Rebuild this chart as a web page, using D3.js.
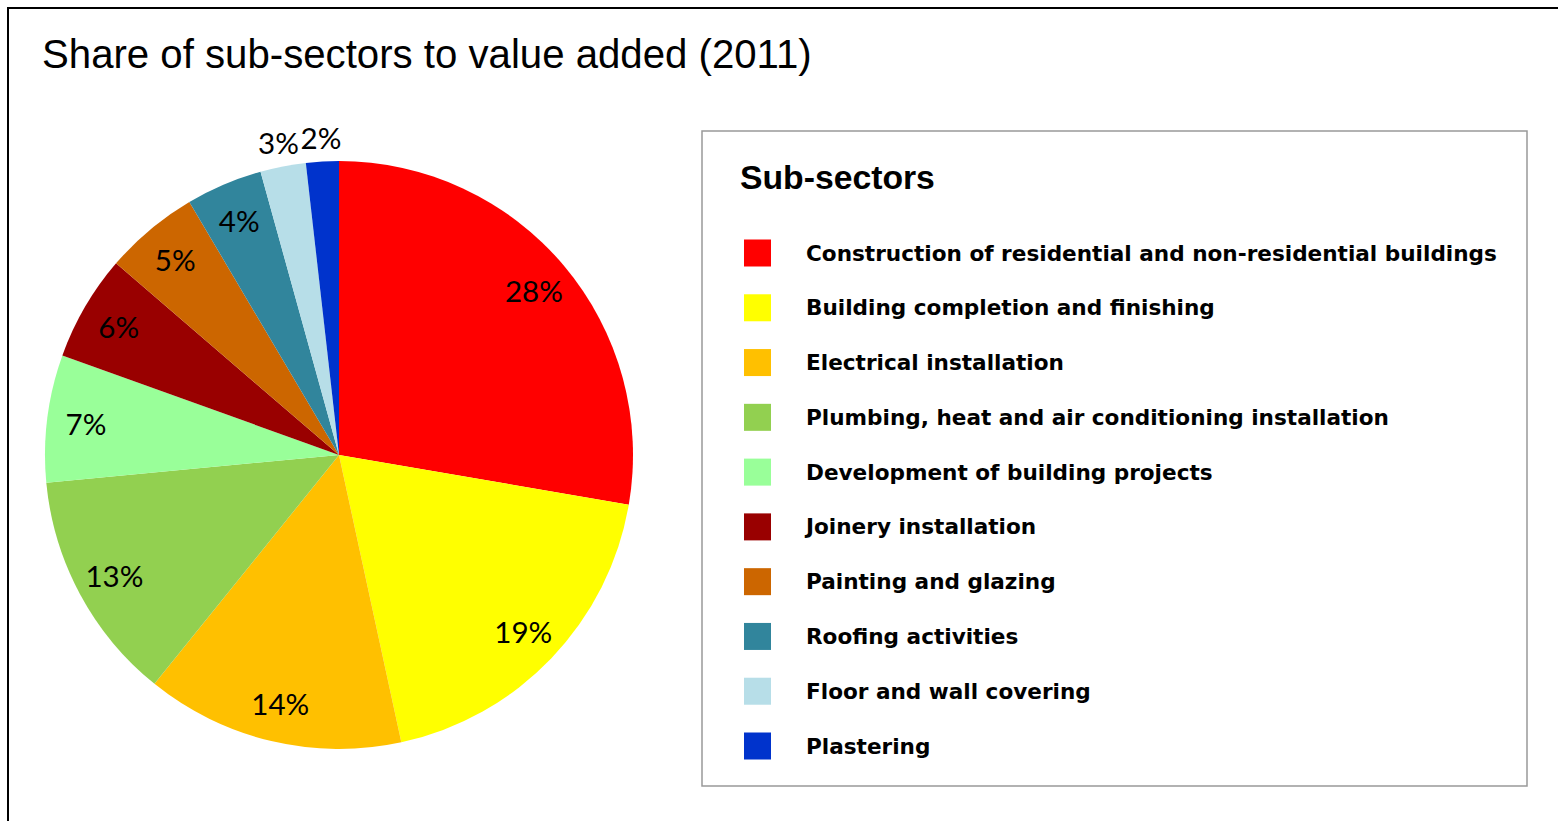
<!DOCTYPE html>
<html><head><meta charset="utf-8">
<script src="https://cdn.jsdelivr.net/npm/d3@7"></script>
<style>html,body{margin:0;padding:0;background:#fff;overflow:hidden}</style>
</head><body>
<script>
const categories = [
  "Construction of residential and non-residential buildings",
  "Building completion and finishing",
  "Electrical installation",
  "Plumbing, heat and air conditioning installation",
  "Development of building projects",
  "Joinery installation",
  "Painting and glazing",
  "Roofing activities",
  "Floor and wall covering",
  "Plastering"
];
const values = [27.7, 18.9, 14.2, 12.7, 7.0, 5.8, 5.2, 4.2, 2.5, 1.8];
const labels = ["28%","19%","14%","13%","7%","6%","5%","4%","3%","2%"];
const colors = ["#FF0000","#FFFF00","#FFC000","#92D050","#99FF99","#990000","#CC6600","#31859C","#B7DEE8","#0033CC"];
const title = "Share of sub-sectors to value added (2011)";
const legendTitle = "Sub-sectors";

const W = 1558, H = 821;
const svg = d3.select("body").append("svg").attr("width", W).attr("height", H);

// outer frame
svg.append("rect").attr("x", 8).attr("y", 8).attr("width", W + 20).attr("height", H + 20)
  .attr("fill", "#fff").attr("stroke", "#000").attr("stroke-width", 2);

function fit(sel, target) {
  const fs = parseFloat(sel.attr("font-size"));
  const w = sel.node().getComputedTextLength();
  sel.attr("font-size", fs * target / w);
}

const t = svg.append("text").attr("x", 42).attr("y", 68)
  .attr("font-family", "Liberation Sans, Arial, sans-serif").attr("font-size", 36)
  .attr("fill", "#000").text(title);
fit(t, 770);

// pie
const cx = 339, cy = 455, R = 294;
const pie = d3.pie().sort(null).value(d => d)(values);
const arc = d3.arc().innerRadius(0).outerRadius(R);
const g = svg.append("g").attr("transform", `translate(${cx},${cy})`);
g.selectAll("path").data(pie).join("path")
  .attr("d", arc).attr("fill", (d, i) => colors[i]);

const inArc = d3.arc().innerRadius(255).outerRadius(255);
const outArc = d3.arc().innerRadius(318).outerRadius(318);
const lbl = g.selectAll("text.lbl").data(pie).join("text").attr("class", "lbl")
  .attr("transform", d => `translate(${(d.data < 3 ? outArc : inArc).centroid(d)})`)
  .attr("text-anchor", "middle").attr("dominant-baseline", "central")
  .attr("font-family", "Lato, Open Sans, sans-serif").attr("font-size", 28)
  .attr("fill", "#000").text((d, i) => labels[i]);
// fit font to reference width of "28%"
{
  const n = lbl.nodes()[0];
  const w = n.getComputedTextLength();
  lbl.attr("font-size", 28 * 58 / w);
}

// legend
const lx = 702, ly = 131, lw = 825, lh = 655;
svg.append("rect").attr("x", lx).attr("y", ly).attr("width", lw).attr("height", lh)
  .attr("fill", "#fff").attr("stroke", "#999").attr("stroke-width", 1.5);
const lt = svg.append("text").attr("x", 740).attr("y", 189)
  .attr("font-family", "Liberation Sans, Arial, sans-serif").attr("font-weight", "bold")
  .attr("font-size", 30).attr("fill", "#000").text(legendTitle);
fit(lt, 195);

const ys = d3.scalePoint().domain(categories).range([253, 746]);
const items = svg.selectAll("g.item").data(categories).join("g").attr("class", "item")
  .attr("transform", d => `translate(0,${ys(d)})`);
items.append("rect").attr("x", 744).attr("y", -13.5).attr("width", 27).attr("height", 27)
  .attr("fill", (d, i) => colors[i]);
const it = items.append("text").attr("x", 806).attr("y", 0).attr("dominant-baseline", "central")
  .attr("font-family", "DejaVu Sans, Verdana, sans-serif").attr("font-weight", "bold")
  .attr("font-size", 18).attr("fill", "#000").text(d => d);
{
  const w = it.nodes()[0].getComputedTextLength();
  it.attr("font-size", 18 * 691 / w);
}
</script>
</body></html>
